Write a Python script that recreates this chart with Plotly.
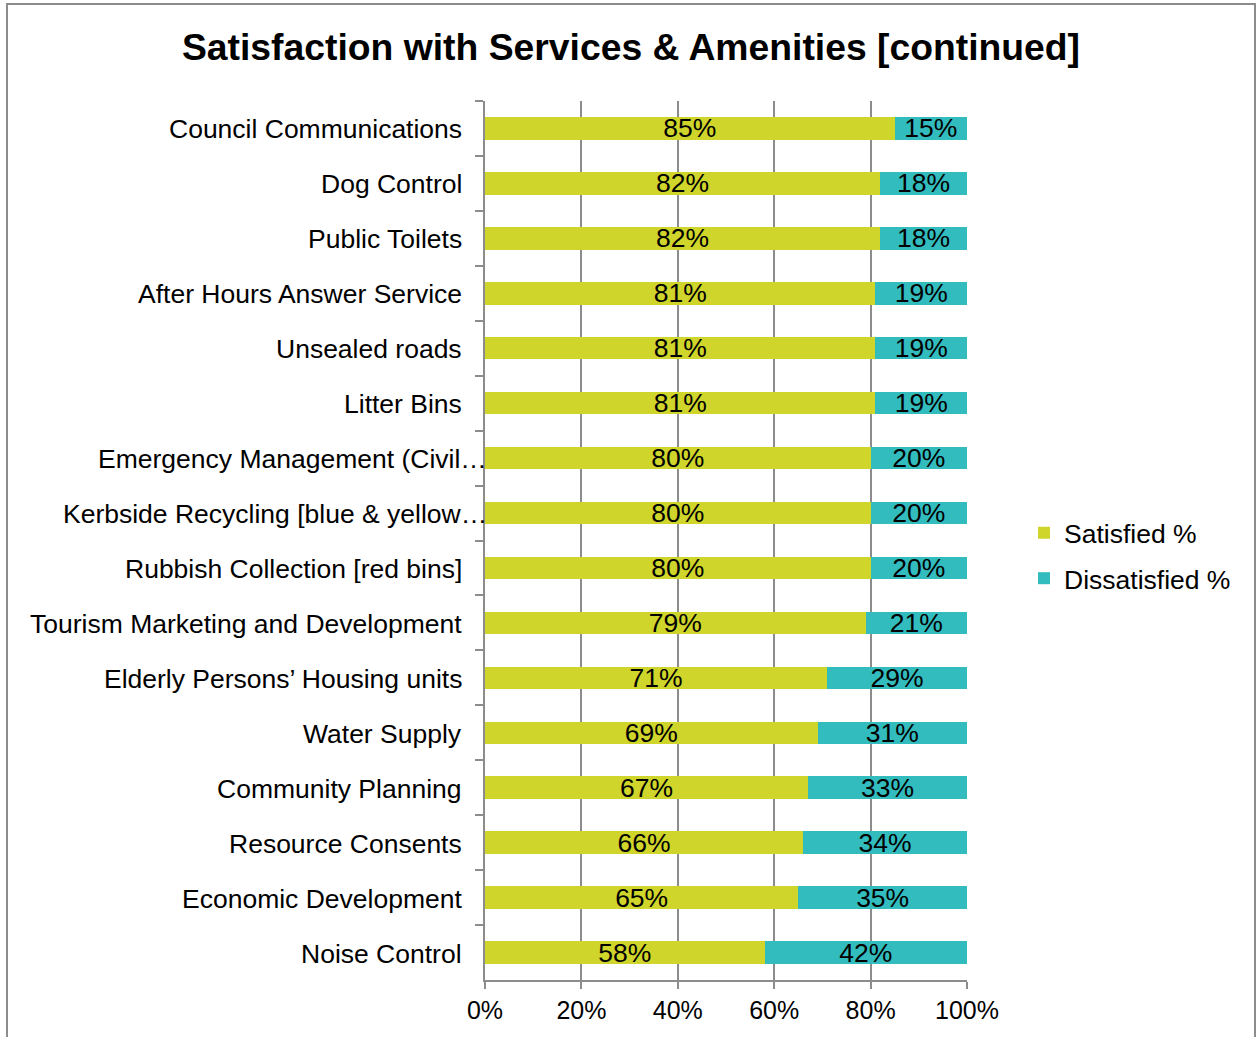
import plotly.graph_objects as go

# Survey results: share of respondents satisfied / dissatisfied per service
services = [
    "Council Communications",
    "Dog Control",
    "Public Toilets",
    "After Hours Answer Service",
    "Unsealed roads",
    "Litter Bins",
    "Emergency Management (Civil…",
    "Kerbside Recycling [blue & yellow…",
    "Rubbish Collection [red bins]",
    "Tourism Marketing and Development",
    "Elderly Persons’ Housing units",
    "Water Supply",
    "Community Planning",
    "Resource Consents",
    "Economic Development",
    "Noise Control",
]
satisfied = [85, 82, 82, 81, 81, 81, 80, 80, 80, 79, 71, 69, 67, 66, 65, 58]
dissatisfied = [15, 18, 18, 19, 19, 19, 20, 20, 20, 21, 29, 31, 33, 34, 35, 42]
x_ticks = [0, 20, 40, 60, 80, 100]
x_tick_labels = ["0%", "20%", "40%", "60%", "80%", "100%"]

# labels that were cut off with an ellipsis run up to the axis line
truncated = {"Emergency Management (Civil…", "Kerbside Recycling [blue & yellow…"}

FONT = "Liberation Sans, Arial, sans-serif"
GREEN = "#CFD52A"
TEAL = "#33BCBE"
GRID = "#8C8C8C"

fig = go.Figure()
for name, vals, color in [
    ("Satisfied %", satisfied, GREEN),
    ("Dissatisfied %", dissatisfied, TEAL),
]:
    fig.add_trace(go.Bar(
        y=services,
        x=vals,
        name=name,
        legendgroup=name,
        orientation="h",
        marker=dict(color=color, line=dict(width=0)),
        width=0.41,
        text=[f"{v}%" for v in vals],
        textposition="inside",
        insidetextanchor="middle",
        constraintext="none",
        textfont=dict(family=FONT, size=26.5, color="black"),
        hoverinfo="skip",
    ))

# category names drawn as right-aligned text next to the axis
for s in services:
    fig.add_annotation(
        x=0, xref="paper", y=s, yref="y",
        text=s, showarrow=False,
        xanchor="right", yanchor="middle",
        xshift=4 if s in truncated else -21,
        yshift=-1,
        font=dict(family=FONT, size=26.5, color="black"),
    )

# outer chart border
fig.add_shape(
    type="rect", xref="paper", yref="paper",
    x0=(7 - 485) / 482, x1=(1255 - 485) / 482,
    y0=(980 - 1060) / 878, y1=(980 - 5) / 878,
    line=dict(color=GRID, width=2), fillcolor="rgba(0,0,0,0)", layer="below",
)

fig.update_layout(
    width=1257,
    height=1037,
    margin=dict(l=485, r=290, t=101, b=57),
    paper_bgcolor="white",
    plot_bgcolor="white",
    barmode="stack",
    bargap=0.59,
    title=dict(
        text="<b>Satisfaction with Services & Amenities [continued]</b>",
        x=631 / 1257, xanchor="center",
        y=1 - 47 / 1037, yanchor="middle",
        font=dict(family=FONT, size=37.3, color="black"),
    ),
    legend=dict(
        x=(1024 - 485) / 482, xanchor="left",
        y=(980 - 556) / 878, yanchor="middle",
        traceorder="grouped",
        tracegroupgap=8,
        font=dict(family=FONT, size=26.5, color="black"),
        bgcolor="rgba(0,0,0,0)",
    ),
    xaxis=dict(
        range=[0, 100],
        tickvals=x_ticks,
        ticktext=x_tick_labels,
        showgrid=True,
        gridcolor=GRID,
        gridwidth=1.5,
        showline=True,
        linecolor=GRID,
        linewidth=1.5,
        ticks="outside",
        ticklen=7,
        tickcolor=GRID,
        tickwidth=1.5,
        zeroline=False,
        tickfont=dict(family=FONT, size=25, color="black"),
        fixedrange=True,
    ),
    yaxis=dict(
        categoryorder="array",
        categoryarray=services,
        autorange="reversed",
        showticklabels=False,
        showgrid=False,
        showline=True,
        linecolor=GRID,
        linewidth=1.5,
        ticks="outside",
        tickson="boundaries",
        ticklen=8,
        tickcolor=GRID,
        tickwidth=1.5,
        zeroline=False,
        fixedrange=True,
    ),
    showlegend=True,
)

fig.write_html("out.html")
